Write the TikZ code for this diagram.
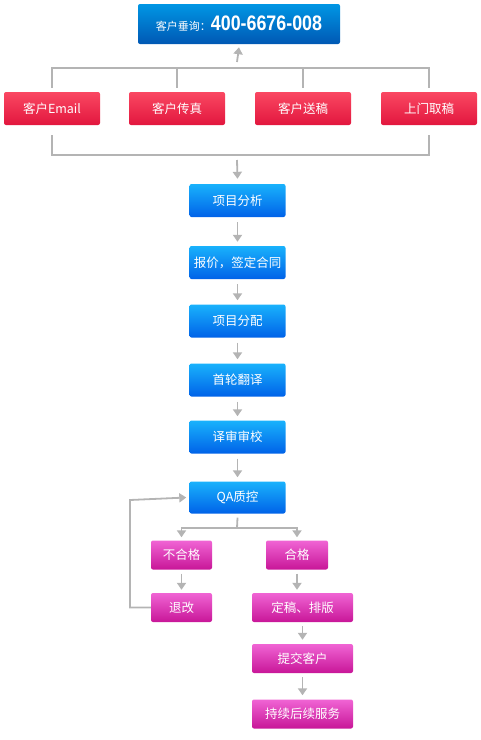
\documentclass[tikz,border=0pt]{standalone}
\usepackage{fontspec}
\setmainfont{Noto Sans CJK SC}
\newfontfamily\numfont{Liberation Sans}[FakeStretch=0.85]
\usetikzlibrary{arrows.meta}

\definecolor{hotTop}{RGB}{0,150,228}
\definecolor{hotBot}{RGB}{0,88,180}
\definecolor{redTop}{RGB}{250,72,98}
\definecolor{redBot}{RGB}{226,22,62}
\definecolor{blueTop}{RGB}{25,178,252}
\definecolor{blueBot}{RGB}{0,98,232}
\definecolor{pinkTop}{RGB}{240,100,212}
\definecolor{pinkBot}{RGB}{200,22,152}
\definecolor{lineGray}{RGB}{180,180,180}

\begin{document}
\begin{tikzpicture}[x=1pt,y=-1pt,
  box/.style={rounded corners=2pt, text=white, inner sep=0pt,
    font=\fontsize{12.5}{14}\selectfont, minimum width=96pt, minimum height=33pt},
  hotbox/.style={box, top color=hotTop, bottom color=hotBot},
  redbox/.style={box, top color=redTop, bottom color=redBot},
  bluebox/.style={box, top color=blueTop, bottom color=blueBot},
  pinkbox/.style={box, top color=pinkTop, bottom color=pinkBot, minimum height=29pt},
  link/.style={draw=lineGray, line width=1.8pt},
  arr/.style={link, -{Triangle[width=9pt,length=7pt]}}]
%\draw[help lines] (0,0) grid[step=20pt] (480,740);
\useasboundingbox (0,0) rectangle (480,740);

\node[hotbox, minimum width=202pt, minimum height=40pt] (hot) at (239,24)
  {{\fontsize{11}{12}\selectfont 客户垂询：}{\numfont\bfseries\fontsize{21}{24}\selectfont 400-6676-008}};

\node[redbox] (mail) at (52,108.5) {客户Email};
\node[redbox] (fax) at (177,108.5) {客户传真};
\node[redbox] (send) at (303,108.5) {客户送稿};
\node[redbox] (fetch) at (429,108.5) {上门取稿};

\coordinate (busUp) at (237,68);
\coordinate (busDown) at (237,155);
\draw[link] ([yshift=4pt]mail.north) |- (busUp) -| ([yshift=4pt]fetch.north);
\draw[link] ([yshift=4pt]fax.north) -- (fax.north |- busUp);
\draw[link] ([yshift=4pt]send.north) -- (send.north |- busUp);
\draw[arr] ([yshift=6pt]busUp) -- ([yshift=-3pt]hot.south);
\draw[link] ([yshift=-10pt]mail.south) |- (busDown) -| ([yshift=-10pt]fetch.south);

\node[bluebox] (analyse) at (237.5,200.5) {项目分析};
\node[bluebox] (quote) at (237.5,262.5) {报价，签定合同};
\node[bluebox] (assign) at (237.5,321) {项目分配};
\node[bluebox] (first) at (237.5,380) {首轮翻译};
\node[bluebox] (review) at (237.5,437) {译审审校};
\node[bluebox, minimum height=32pt] (qa) at (237.5,497.5) {QA质控};

\draw[arr] ([yshift=-5pt]busDown) -- ([yshift=5pt]analyse.north);
\foreach \a/\b in {analyse/quote, quote/assign, assign/first, first/review, review/qa}
  \draw[arr] ([yshift=-5pt]\a.south) -- ([yshift=4pt]\b.north);

\node[pinkbox, minimum width=61pt] (fail) at (181.5,555) {不合格};
\node[pinkbox, minimum width=62pt] (pass) at (297,555) {合格};
\node[pinkbox, minimum width=61pt] (redo) at (181.5,607.5) {退改};
\node[pinkbox, minimum width=101pt] (layout) at (302.5,607.5) {定稿、排版};
\node[pinkbox, minimum width=101pt] (deliver) at (302.5,658.5) {提交客户};
\node[pinkbox, minimum width=101pt] (service) at (302.5,714) {持续后续服务};

\coordinate (split) at (237,528);
\coordinate (backTurn) at (130,500);
\draw[link] ([yshift=-4pt]qa.south) -- (split);
\draw[arr] (split) -| ([yshift=3pt]fail.north);
\draw[arr] (split) -| ([yshift=3pt]pass.north);
\draw[arr] ([yshift=-4pt]fail.south) -- ([yshift=3pt]redo.north);
\draw[arr] ([yshift=-4pt]pass.south) -- ([yshift=3pt]pass.south |- layout.north);
\draw[arr] ([yshift=-4pt]layout.south) -- ([yshift=4pt]deliver.north);
\draw[arr] ([yshift=-4pt]deliver.south) -- ([yshift=4pt]service.north);
\draw[arr] (redo.west) -| (backTurn) -- ([xshift=-3pt]qa.west);
\end{tikzpicture}
\end{document}
